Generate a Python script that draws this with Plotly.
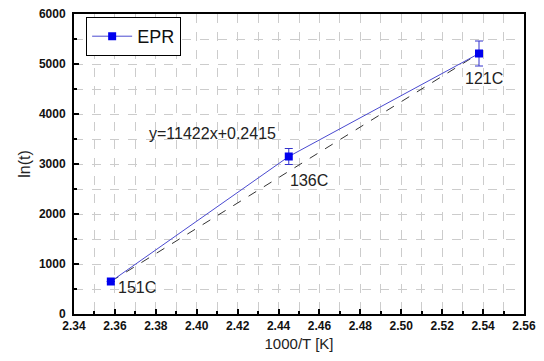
import plotly.graph_objects as go

# Data
inv_T = [2.358, 2.445, 2.538]
ln_t = [650, 3150, 5210]
err = [0, 160, 250]
labels = ["151C", "136C", "121C"]
fit_x = [2.358, 2.538]
fit_y = [650, 5210]
eq_text = "y=11422x+0.2415"

x_ticks = [2.34, 2.36, 2.38, 2.40, 2.42, 2.44, 2.46, 2.48, 2.50, 2.52, 2.54, 2.56]
y_ticks = [0, 1000, 2000, 3000, 4000, 5000, 6000]

label_font = dict(family="Liberation Sans, Arial", size=16, color="#222")

fig = go.Figure()
fig.add_trace(go.Scatter(
    x=fit_x, y=fit_y, mode="lines", showlegend=False,
    line=dict(color="#333333", width=1, dash="dash"), hoverinfo="skip"))
fig.add_trace(go.Scatter(
    x=inv_T, y=ln_t, mode="lines+markers", name="EPR",
    line=dict(color="#4a4ad0", width=1),
    marker=dict(symbol="square", size=8, color="#0000ee"),
    error_y=dict(type="data", array=err, visible=True, color="#3333cc",
                 thickness=1, width=4)))

# point labels
offsets = [(0.013, -110), (0.0097, -470), (0.0025, -490)]
for xv, yv, lab, (dx, dy) in zip(inv_T, ln_t, labels, offsets):
    fig.add_annotation(x=xv + dx, y=yv + dy, text=lab, showarrow=False,
                       font=label_font, xanchor="center", yanchor="middle")
fig.add_annotation(x=2.4075, y=3620, text=eq_text, showarrow=False,
                   font=label_font, xanchor="center", yanchor="middle")

axis_common = dict(
    showline=True, linecolor="black", linewidth=2, mirror=True,
    ticks="inside", ticklen=5, tickcolor="black", tickwidth=1.5,
    showgrid=True, gridcolor="#cccccc", griddash="dash", gridwidth=1,
    tickfont=dict(family="Liberation Sans, Arial", size=12, color="#111", weight="bold"),
    zeroline=False, automargin=False, ticklabeloverflow="allow",
)

fig.update_xaxes(
    **axis_common, range=[2.34, 2.56], tickvals=x_ticks,
    ticktext=[f"{v:.2f}" for v in x_ticks],
    minor=dict(dtick=0.01, tick0=2.34, ticks="inside", ticklen=3, tickcolor="black",
               showgrid=True, gridcolor="#cccccc", griddash="dash"),
    title=dict(text="1000/T [K]", font=dict(family="Liberation Sans, Arial", size=15, color="#222"),
               standoff=6),
)
fig.update_yaxes(
    **axis_common, range=[0, 6000], tickvals=y_ticks,
    minor=dict(dtick=500, tick0=0, ticks="inside", ticklen=3, tickcolor="black",
               showgrid=True, gridcolor="#cccccc", griddash="dash"),
    title=dict(text="ln(t)", font=dict(family="Liberation Sans, Arial", size=16, color="#222"),
               standoff=4),
    ticklabelstandoff=4,
)

fig.update_layout(
    width=544, height=361,
    margin=dict(l=74, r=20, t=14, b=47),
    plot_bgcolor="white", paper_bgcolor="white",
    legend=dict(x=0.027, y=0.99, xanchor="left", yanchor="top",
                bgcolor="white", bordercolor="black", borderwidth=1,
                font=dict(family="Liberation Sans, Arial", size=18, color="#111"),
                itemwidth=40, tracegroupgap=0),
    showlegend=True,
)

fig.write_html("out.html", post_script="document.body.style.margin='0';",
               config={"displayModeBar": False})
